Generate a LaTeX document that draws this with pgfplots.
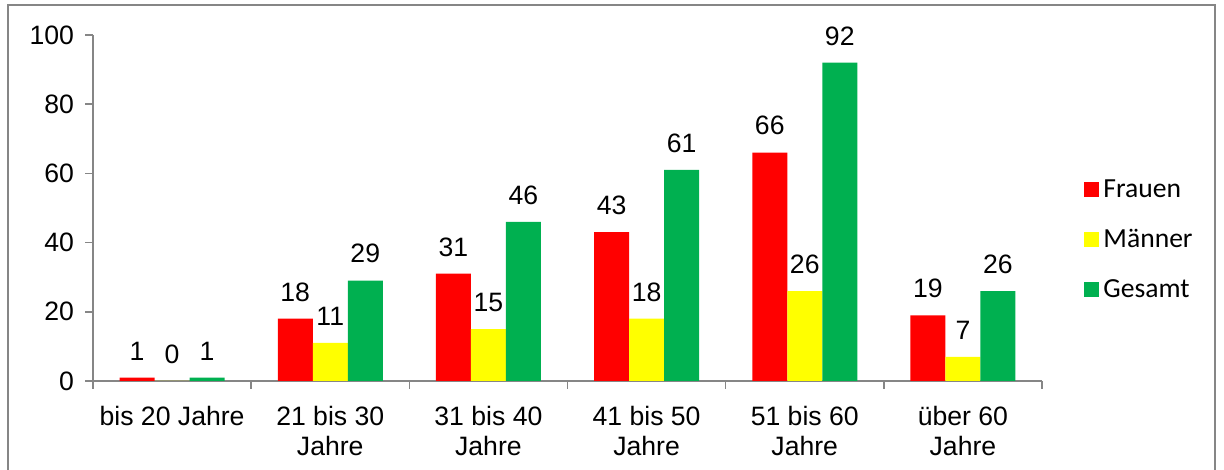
\documentclass[border=0pt]{standalone}
\usepackage{fontspec}
\setmainfont{Liberation Sans}
\newfontfamily\calfont{Carlito}
\usepackage{pgfplots}
\pgfplotsset{compat=1.18}
\definecolor{frauen}{RGB}{255,0,0}
\definecolor{maenner}{RGB}{255,255,0}
\definecolor{gesamt}{RGB}{0,176,80}
\definecolor{axgray}{RGB}{134,134,134}
\begin{document}
\begin{tikzpicture}[font=\fontsize{13.3}{15}\selectfont]
\useasboundingbox (0,0) rectangle (612pt,235pt);
\draw[axgray, line width=0.8pt] (4pt,-2pt) -- (4pt,232.5pt) -- (607.5pt,232.5pt) -- (607.5pt,-2pt);
\begin{axis}[
  at={(46.5pt,44.5pt)}, anchor=south west,
  scale only axis,
  width=474.5pt, height=173pt,
  ybar=0pt, bar width=17.5pt,
  xmin=-0.5, xmax=5.5,
  ymin=0, ymax=100,
  axis lines*=left,
  axis line style={-, axgray, line width=0.8pt},
  ytick={0,20,...,100},
  xtick={0,...,5},
  xticklabels={{bis 20 Jahre},{21 bis 30\\Jahre},{31 bis 40\\Jahre},{41 bis 50\\Jahre},{51 bis 60\\Jahre},{über 60\\Jahre}},
  xticklabel style={align=center, yshift=-5pt},
  minor xtick={-0.5,0.5,...,5.5},
  major x tick style={draw=none},
  tick style={axgray, line width=0.8pt},
  major tick length=4pt, minor tick length=4pt,
  tick align=outside,
  /pgf/number format/assume math mode=true,
  yticklabel style={xshift=-2pt},
  nodes near coords,
  every node near coord/.append style={inner sep=0pt, yshift=8.5pt, black},
  legend style={draw=none, fill=none, at={(1.0443,0.4075)}, anchor=west,
    font=\calfont\fontsize{13.8}{15}\selectfont, row sep=10.5pt, inner sep=0pt},
  legend cell align=left,
  legend image code/.code={\fill[#1] (0pt,-3.75pt) rectangle (7.5pt,3.75pt);},
]
\addplot[fill=frauen, draw=none] coordinates {(0,1) (1,18) (2,31) (3,43) (4,66) (5,19)};
\addlegendentry{Frauen}
\addplot[fill=maenner, draw=none] coordinates {(0,0) (1,11) (2,15) (3,18) (4,26) (5,7)};
\addlegendentry{Männer}
\addplot[fill=gesamt, draw=none] coordinates {(0,1) (1,29) (2,46) (3,61) (4,92) (5,26)};
\addlegendentry{Gesamt}
\end{axis}
\end{tikzpicture}
\end{document}
